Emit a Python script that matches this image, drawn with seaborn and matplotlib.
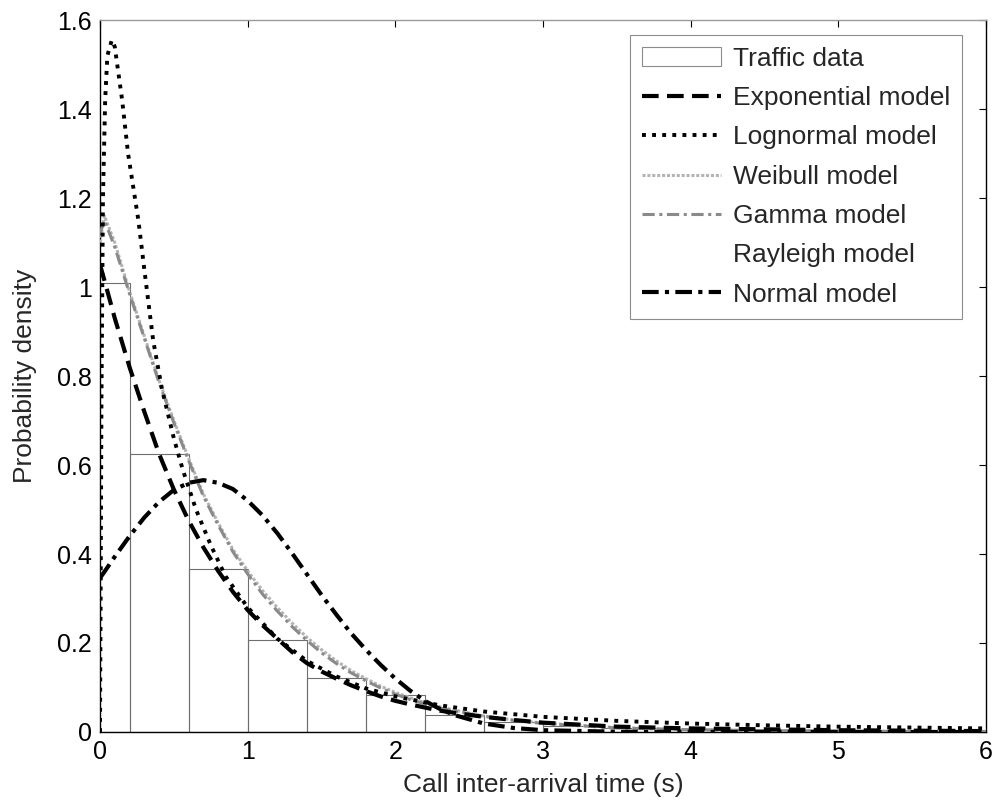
import matplotlib
matplotlib.use("Agg")
import matplotlib.pyplot as plt
import seaborn as sns
from matplotlib.patches import Rectangle
from matplotlib.lines import Line2D

# ---- histogram of measured inter-arrival times (bin centres, heights) ----
bin_edges = [-0.2, 0.2, 0.6, 1.0, 1.4, 1.8, 2.2, 2.6, 3.0, 3.4, 3.8, 4.2, 4.6,
             5.0, 5.4, 5.8, 6.2]
bin_centers = [0.0, 0.4, 0.8, 1.2, 1.6, 2.0, 2.4, 2.8, 3.2, 3.6, 4.0, 4.4,
               4.8, 5.2, 5.6, 6.0]
bin_heights = [1.01, 0.625, 0.366, 0.207, 0.121, 0.082, 0.038, 0.022, 0.014,
               0.010, 0.007, 0.005, 0.004, 0.003, 0.002, 0.002]

# ---- fitted model densities ----
t = [0.0, 0.03, 0.1, 0.2, 0.3, 0.4, 0.5, 0.6, 0.7, 0.8, 0.9, 1.0, 1.1, 1.2,
     1.3, 1.4, 1.5, 1.6, 1.7, 1.8, 1.9, 2.0, 2.1, 2.2, 2.3, 2.4, 2.6, 2.8,
     3.0, 3.5, 4.0, 4.5, 5.0, 5.5, 6.0]

exponential = [1.05, 1.015, 0.93, 0.82, 0.72, 0.625, 0.545, 0.475, 0.415,
               0.362, 0.315, 0.274, 0.24, 0.21, 0.18, 0.155, 0.136, 0.12,
               0.105, 0.092, 0.08, 0.07, 0.062, 0.055, 0.048, 0.043, 0.034,
               0.027, 0.021, 0.012, 0.008, 0.006, 0.004, 0.003, 0.002]

weibull = [1.10, 1.16, 1.10, 0.99, 0.89, 0.79, 0.70, 0.615, 0.535, 0.47,
           0.41, 0.362, 0.318, 0.28, 0.245, 0.213, 0.185, 0.16, 0.138, 0.12,
           0.103, 0.089, 0.077, 0.066, 0.057, 0.049, 0.036, 0.027, 0.02,
           0.01, 0.005, 0.003, 0.002, 0.001, 0.001]

gamma = [1.12, 1.15, 1.09, 0.985, 0.885, 0.785, 0.695, 0.61, 0.53, 0.465,
         0.405, 0.355, 0.31, 0.272, 0.237, 0.206, 0.178, 0.154, 0.133, 0.115,
         0.099, 0.085, 0.073, 0.063, 0.054, 0.047, 0.035, 0.026, 0.019,
         0.009, 0.005, 0.003, 0.002, 0.001, 0.001]

rayleigh = [0.0, 0.053, 0.176, 0.345, 0.492, 0.61, 0.713, 0.773, 0.80, 0.81,
            0.785, 0.731, 0.67, 0.59, 0.51, 0.435, 0.36, 0.29, 0.225, 0.17,
            0.13, 0.10, 0.072, 0.05, 0.035, 0.024, 0.011, 0.005, 0.002,
            0.0, 0.0, 0.0, 0.0, 0.0, 0.0]

normal = [0.346, 0.36, 0.394, 0.44, 0.482, 0.517, 0.544, 0.56, 0.566, 0.56,
          0.546, 0.52, 0.487, 0.447, 0.402, 0.355, 0.308, 0.264, 0.222,
          0.185, 0.151, 0.12, 0.093, 0.07, 0.052, 0.038, 0.019, 0.009, 0.004,
          0.0005, 0.0, 0.0, 0.0, 0.0, 0.0]

t_logn = [0.0, 0.005, 0.01, 0.02, 0.035, 0.05, 0.08, 0.1, 0.15, 0.19, 0.26,
          0.3, 0.36, 0.42, 0.5, 0.56, 0.65, 0.75, 0.85, 1.0, 1.2, 1.4, 1.6,
          1.8, 2.0, 2.3, 2.6, 3.0, 3.5, 4.0, 4.5, 5.0, 5.5, 6.0]
lognormal = [0.0, 0.35, 0.75, 1.2, 1.42, 1.52, 1.555, 1.54, 1.42, 1.30, 1.15,
             1.04, 0.88, 0.77, 0.66, 0.59, 0.50, 0.42, 0.35, 0.28, 0.21, 0.16,
             0.125, 0.098, 0.08, 0.06, 0.046, 0.034, 0.025, 0.019, 0.015,
             0.012, 0.01, 0.008]

labels = ["Traffic data", "Exponential model", "Lognormal model",
          "Weibull model", "Gamma model", "Rayleigh model", "Normal model"]

sns.set_style("white")
plt.rcParams["font.family"] = ["Liberation Sans", "DejaVu Sans"]

fig = plt.figure(figsize=(9.93, 8.05), dpi=100)
ax = fig.add_axes([0.1007, 0.0907, 0.8923, 0.8844])

hist_color = "#6e6e6e"
sns.histplot(x=bin_centers, weights=bin_heights, bins=bin_edges, stat="count",
             fill=False, element="bars", color=hist_color, linewidth=0.8,
             ax=ax, zorder=2)
for p in ax.patches:
    p.set_edgecolor(hist_color)

styles = {
    "rayleigh": dict(color="white", lw=1.5, ls="-"),
    "weibull": dict(color="#b4b4b4", lw=2.2, ls=(0, (1.0, 0.6))),
    "gamma": dict(color="#8a8a8a", lw=2.2, ls=(0, (4, 1.5, 1, 1.5))),
    "exponential": dict(color="black", lw=3.0, ls=(0, (4, 2))),
    "lognormal": dict(color="black", lw=2.8, ls=(0, (1, 1.6))),
    "normal": dict(color="black", lw=3.0, ls=(0, (4, 1.5, 1, 1.5))),
}

# the Rayleigh fit is drawn in white underneath everything else
sns.lineplot(x=t, y=rayleigh, ax=ax, zorder=1, **styles["rayleigh"])
sns.lineplot(x=t, y=weibull, ax=ax, zorder=3, **styles["weibull"])
sns.lineplot(x=t, y=gamma, ax=ax, zorder=3, **styles["gamma"])
sns.lineplot(x=t, y=exponential, ax=ax, zorder=4, **styles["exponential"])
sns.lineplot(x=t_logn, y=lognormal, ax=ax, zorder=4, **styles["lognormal"])
sns.lineplot(x=t, y=normal, ax=ax, zorder=4, **styles["normal"])

ax.set_xlim(0, 6)
ax.set_ylim(0, 1.6)
ax.set_xticks([0, 1, 2, 3, 4, 5, 6])
ax.set_xticklabels(["0", "1", "2", "3", "4", "5", "6"])
ax.set_yticks([0, 0.2, 0.4, 0.6, 0.8, 1.0, 1.2, 1.4, 1.6])
ax.set_yticklabels(["0", "0.2", "0.4", "0.6", "0.8", "1", "1.2", "1.4", "1.6"])
ax.tick_params(direction="in", length=5, width=0.8, labelsize=18,
               top=True, right=True, colors="black", pad=6)
ax.set_xlabel("Call inter-arrival time (s)", fontsize=19, labelpad=6)
ax.set_ylabel("Probability density", fontsize=19, labelpad=14)

for side in ["left", "bottom", "right"]:
    ax.spines[side].set_color("black")
    ax.spines[side].set_linewidth(1.0)
ax.spines["top"].set_color("#9a9a9a")
ax.spines["top"].set_linewidth(1.0)

handles = [Rectangle((0, 0), 1, 1, fill=False, edgecolor="#8c8c8c", lw=0.8)]
for key in ["exponential", "lognormal", "weibull", "gamma", "rayleigh",
            "normal"]:
    s = styles[key]
    handles.append(Line2D([], [], color=s["color"], lw=s["lw"],
                          linestyle=s["ls"]))
leg = ax.legend(handles, labels, loc="upper right", fontsize=19,
                frameon=True, fancybox=False, handlelength=3.0,
                handletextpad=0.45, labelspacing=0.58, borderpad=0.45,
                borderaxespad=0.0, bbox_to_anchor=(0.973, 0.979))
leg.get_frame().set_edgecolor("#707070")
leg.get_frame().set_linewidth(0.8)

fig.savefig("out.png", dpi=100)
